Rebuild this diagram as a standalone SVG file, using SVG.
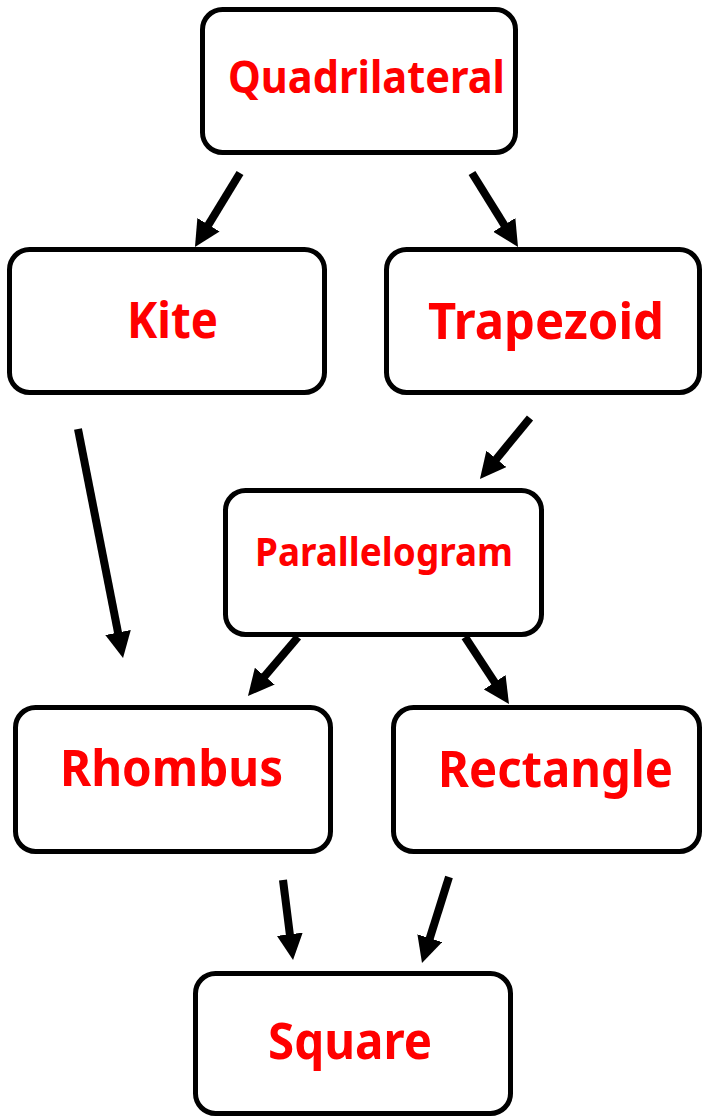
<svg xmlns="http://www.w3.org/2000/svg" width="702" height="1116" viewBox="0 0 702 1116">
<style>
.box{fill:#fff;stroke:#000;stroke-width:5}
.lbl{fill:#f00;font-family:"Noto Sans","Open Sans","DejaVu Sans",sans-serif;font-weight:bold}
.conn line{stroke:#000;stroke-width:8;marker-end:url(#ah)}
</style>
<defs>
<marker id="ah" markerUnits="userSpaceOnUse" markerWidth="26" markerHeight="26" viewBox="0 0 26 26" refX="4" refY="13" orient="auto">
<path d="M0,0 L26,13 L0,26 z" fill="#000"/>
</marker>
</defs>
<rect width="702" height="1116" fill="#fff"/>
<g id="connectors" class="conn">
<line x1="240" y1="173" x2="206.4" y2="228.2"/>
<line x1="472" y1="173" x2="506.4" y2="228.3"/>
<line x1="530" y1="418" x2="493.9" y2="462"/>
<line x1="78" y1="429" x2="118.8" y2="636.4"/>
<line x1="298" y1="637" x2="262.2" y2="679.2"/>
<line x1="465" y1="637" x2="496.9" y2="685.6"/>
<line x1="283" y1="880" x2="290.3" y2="938.2"/>
<line x1="449" y1="877" x2="428.6" y2="942"/>
</g>
<g id="quadrilateral">
<rect class="box" x="202.5" y="9.5" width="313" height="143" rx="20"/>
<text class="lbl" x="228" y="93" font-size="45" textLength="277" lengthAdjust="spacingAndGlyphs">Quadrilateral</text>
</g>
<g id="kite">
<rect class="box" x="9.5" y="249.5" width="315" height="143" rx="20"/>
<text class="lbl" x="127" y="338" font-size="50" textLength="91" lengthAdjust="spacingAndGlyphs">Kite</text>
</g>
<g id="trapezoid">
<rect class="box" x="386.5" y="249.5" width="313" height="143" rx="20"/>
<text class="lbl" x="428" y="339" font-size="50" textLength="236" lengthAdjust="spacingAndGlyphs">Trapezoid</text>
</g>
<g id="parallelogram">
<rect class="box" x="225.5" y="490.5" width="316" height="144" rx="20"/>
<text class="lbl" x="255" y="566" font-size="39" textLength="258" lengthAdjust="spacingAndGlyphs">Parallelogram</text>
</g>
<g id="rhombus">
<rect class="box" x="15.5" y="707.5" width="315" height="144" rx="20"/>
<text class="lbl" x="60" y="786" font-size="50" textLength="223" lengthAdjust="spacingAndGlyphs">Rhombus</text>
</g>
<g id="rectangle">
<rect class="box" x="393.5" y="707.5" width="306" height="144" rx="20"/>
<text class="lbl" x="438" y="787" font-size="50" textLength="235" lengthAdjust="spacingAndGlyphs">Rectangle</text>
</g>
<g id="square">
<rect class="box" x="195.5" y="973.5" width="315" height="140" rx="20"/>
<text class="lbl" x="268" y="1059" font-size="50" textLength="164" lengthAdjust="spacingAndGlyphs">Square</text>
</g>
</svg>
